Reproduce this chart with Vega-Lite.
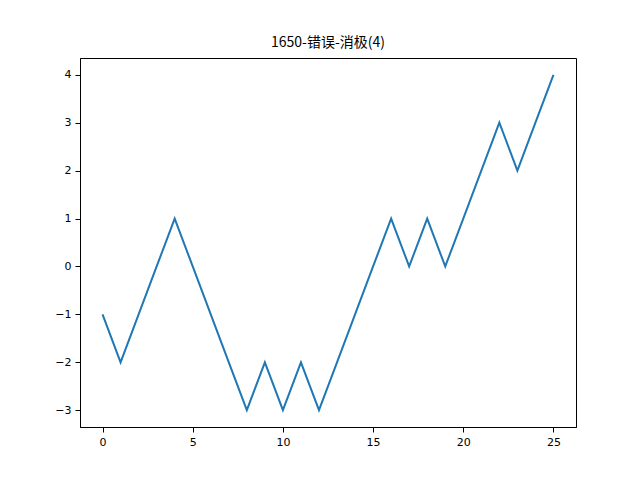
{
  "$schema": "https://vega.github.io/schema/vega-lite/v6.json",
  "width": 496,
  "height": 369,
  "autosize": {"type": "none"},
  "padding": {"left": 80, "top": 58, "right": 64, "bottom": 53},
  "title": {"text": "1650-错误-消极(4)", "font": "Noto Sans CJK SC", "fontSize": 14, "fontWeight": "normal", "color": "black", "offset": 8},
  "config": {"view": {"stroke": "black"}, "axis": {"grid": false, "domainColor": "black", "tickColor": "black", "labelColor": "black", "labelFont": "DejaVu Sans", "labelFontSize": 11, "title": null, "labelPadding": 4}},
  "data": {"values": [
    {"x": 0, "y": -1}, {"x": 1, "y": -2}, {"x": 2, "y": -1}, {"x": 3, "y": 0}, {"x": 4, "y": 1},
    {"x": 5, "y": 0}, {"x": 6, "y": -1}, {"x": 7, "y": -2}, {"x": 8, "y": -3}, {"x": 9, "y": -2},
    {"x": 10, "y": -3}, {"x": 11, "y": -2}, {"x": 12, "y": -3}, {"x": 13, "y": -2}, {"x": 14, "y": -1},
    {"x": 15, "y": 0}, {"x": 16, "y": 1}, {"x": 17, "y": 0}, {"x": 18, "y": 1}, {"x": 19, "y": 0},
    {"x": 20, "y": 1}, {"x": 21, "y": 2}, {"x": 22, "y": 3}, {"x": 23, "y": 2}, {"x": 24, "y": 3},
    {"x": 25, "y": 4}
  ]},
  "mark": {"type": "line", "color": "#1f77b4", "strokeWidth": 2},
  "encoding": {
    "x": {"field": "x", "type": "quantitative", "scale": {"domain": [-1.25, 26.25], "nice": false, "zero": false}, "axis": {"values": [0, 5, 10, 15, 20, 25]}},
    "y": {"field": "y", "type": "quantitative", "scale": {"domain": [-3.35, 4.35], "nice": false, "zero": false}, "axis": {"values": [-3, -2, -1, 0, 1, 2, 3, 4]}}
  }
}
